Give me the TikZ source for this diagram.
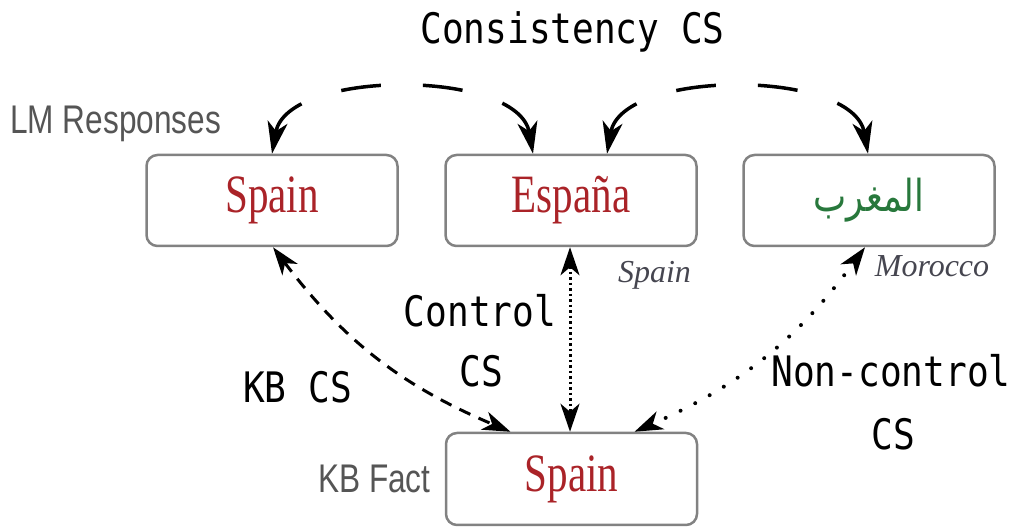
\documentclass[tikz,border=0pt]{standalone}
\usepackage{fontspec}
\setmainfont{Liberation Serif}[FakeStretch=0.76]
\newfontfamily\glossfont{Liberation Serif}
\newfontfamily\labelfont{Liberation Sans}[FakeStretch=0.79]
\newfontfamily\codefont{DejaVu Sans Mono}[FakeStretch=0.86]
\newfontfamily\arabicfont{DejaVu Sans}[Script=Arabic,FakeStretch=0.8]
\TeXXeTstate=1
\usetikzlibrary{arrows.meta}

\definecolor{wordred}{RGB}{170,35,40}
\definecolor{wordgreen}{RGB}{40,120,60}
\definecolor{boxgray}{RGB}{130,130,130}
\definecolor{notegray}{RGB}{85,85,85}
\definecolor{glossgray}{RGB}{70,70,80}

\begin{document}
\begin{tikzpicture}[x=1pt,y=1pt,
  answer/.style={draw=boxgray, line width=2.5pt, rounded corners=11pt,
    minimum width=251pt, minimum height=91pt, inner sep=0pt,
    font=\fontsize{54}{60}\selectfont, text=wordred},
  note/.style={font=\labelfont\fontsize{40}{44}\selectfont, text=notegray, inner sep=0pt},
  gloss/.style={font=\glossfont\itshape\fontsize{32}{34}\selectfont, text=glossgray, inner sep=0pt},
  metric/.style={font=\codefont\fontsize{42}{46}\selectfont, inner sep=0pt, anchor=base},
  bigtip/.style={{Stealth[length=32pt,width=20pt,inset=9pt]}-{Stealth[length=32pt,width=20pt,inset=9pt]}},
  smalltip/.style={{Stealth[length=28pt,width=19pt,inset=8pt]}-{Stealth[length=28pt,width=19pt,inset=8pt]}},
  consline/.style={bigtip, line width=3.5pt, dash pattern=on 40pt off 42pt},
  kbline/.style={smalltip, line width=3pt, dash pattern=on 12pt off 9pt},
  ctrlline/.style={smalltip, line width=3pt, dash pattern=on 2.5pt off 3pt},
  ncline/.style={smalltip, line width=4pt, line cap=round, dash pattern=on 0pt off 16.5pt},
]
\useasboundingbox (0,0) rectangle (1014,527);

% response boxes and the knowledge-base fact
\node[answer] (r1) at (272,326.5) {Spain};
\node[answer] (r2) at (571,326.5) {España};
\node[answer, text=wordgreen, font=\arabicfont\fontsize{44}{50}\selectfont] (r3) at (869,326.5) {\beginR المغرب\endR};
\node[answer, minimum height=92pt] (kb) at (571.5,48) {Spain};

% side labels and glosses
\node[note, anchor=base west] (lmlabel) at (10,393) {LM Responses};
\node[note, anchor=base west] (kblabel) at (318,34) {KB Fact};
\node[gloss, anchor=base] (gl2) at (654.5,244) {Spain};
\node[gloss, anchor=base] (gl3) at (932,250) {Morocco};

% metric names
\node[metric] (cons) at (572.5,483) {Consistency CS};
\node[metric] (ctrla) at (480,200) {Control};
\node[metric] (ctrlb) at (481,140) {CS};
\node[metric] (kbcs) at (297.5,124) {KB CS};
\node[metric] (nca) at (891,140) {Non-control};
\node[metric] (ncb) at (893.5,77) {CS};

% consistency between responses
\draw[consline] (r1.north) .. controls +(15,85) and +(-15,85) .. ([xshift=-38pt]r2.north);
\draw[consline] ([xshift=36pt]r2.north) .. controls +(15,85) and +(-15,85) .. ([xshift=-1pt]r3.north);

% agreement with the fact
\draw[kbline] ([xshift=1pt]r1.south) to[bend right=15] ([xshift=-61pt]kb.north);
\draw[ctrlline] ([xshift=-1pt]r2.south) -- ([xshift=-1.5pt]kb.north);
\draw[ncline] ([xshift=-4pt]r3.south) to[bend left=15] ([xshift=63pt]kb.north);
\end{tikzpicture}
\end{document}
